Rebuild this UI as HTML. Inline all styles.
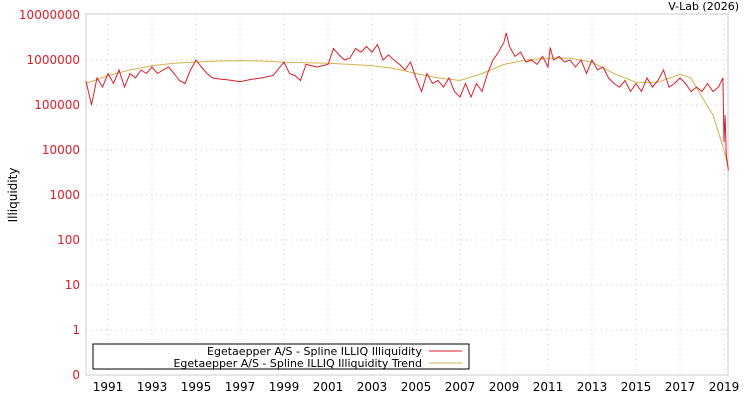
<!DOCTYPE html>
<html><head><meta charset="utf-8"><style>
body{margin:0;background:#fff;}
svg{display:block;font-family:"DejaVu Sans","Liberation Sans",sans-serif;}
</style></head><body>
<svg id="chart" width="750" height="400">
<text x="739" y="10" font-size="11" text-anchor="end" fill="#000">V-Lab (2026)</text>
<text x="17" y="195" font-size="12" text-anchor="middle" transform="rotate(-90 17 195)">Illiquidity</text>
<g id="grid"></g>
<rect x="86" y="14" width="642" height="361" fill="none" stroke="#ccc"/>
<g id="marks"></g>
<g id="axes"></g>
<g>
<rect x="93" y="344" width="376" height="25" fill="#fff" stroke="#000"/>
<text x="422" y="355" font-size="11" text-anchor="end">Egetaepper A/S - Spline ILLIQ Illiquidity</text>
<line x1="429" y1="351" x2="462" y2="351" stroke="#d9202a"/>
<text x="422" y="367" font-size="11" text-anchor="end">Egetaepper A/S - Spline ILLIQ Illiquidity Trend</text>
<line x1="429" y1="363" x2="462" y2="363" stroke="#d4b050"/>
</g>
</svg>
<script>
const yTicks=[0.1,1,10,100,1000,10000,100000,1000000,10000000];
const yTickLabels=["0","1","10","100","1000","10000","100000","1000000","10000000"];
const xTicks=[1991,1993,1995,1997,1999,2001,2003,2005,2007,2009,2011,2013,2015,2017,2019];
const illiqTimes=[1990,1990.25,1990.5,1990.75,1991,1991.25,1991.5,1991.75,1992,1992.25,1992.5,1992.75,1993,1993.25,1993.5,1993.75,1994,1994.25,1994.5,1994.75,1995,1995.25,1995.5,1995.75,1996,1996.5,1997,1997.5,1998,1998.5,1999,1999.25,1999.5,1999.75,2000,2000.5,2001,2001.25,2001.5,2001.75,2002,2002.25,2002.5,2002.75,2003,2003.25,2003.5,2003.75,2004,2004.25,2004.5,2004.75,2005,2005.25,2005.5,2005.75,2006,2006.25,2006.5,2006.75,2007,2007.25,2007.5,2007.75,2008,2008.25,2008.5,2008.75,2009,2009.1,2009.25,2009.5,2009.75,2010,2010.25,2010.5,2010.75,2011,2011.1,2011.25,2011.5,2011.75,2012,2012.25,2012.5,2012.75,2013,2013.25,2013.5,2013.75,2014,2014.25,2014.5,2014.75,2015,2015.25,2015.5,2015.75,2016,2016.25,2016.5,2016.75,2017,2017.25,2017.5,2017.75,2018,2018.25,2018.5,2018.75,2018.95,2019,2019.05,2019.1,2019.2];
const illiqValues=[340000,100000,400000,250000,500000,300000,600000,250000,500000,400000,600000,500000,700000,500000,600000,700000,500000,350000,300000,600000,1000000,700000,500000,400000,380000,360000,330000,370000,400000,450000,900000,500000,450000,350000,800000,700000,800000,1800000,1300000,1000000,1100000,1800000,1500000,2000000,1500000,2200000,1000000,1300000,1000000,800000,600000,900000,400000,200000,500000,300000,350000,250000,400000,200000,150000,300000,150000,300000,200000,500000,1000000,1500000,2500000,4000000,2000000,1200000,1500000,900000,1000000,800000,1200000,700000,1900000,1000000,1200000,900000,1000000,700000,1000000,500000,1000000,600000,700000,400000,300000,250000,350000,200000,300000,200000,400000,250000,350000,600000,250000,300000,400000,300000,200000,250000,200000,300000,200000,250000,400000,15000,60000,8000,3500];
const trendTimes=[1990,1991,1992,1993,1994,1995,1996,1997,1998,1999,2000,2001,2002,2003,2004,2005,2006,2007,2008,2009,2010,2011,2012,2013,2014,2015,2016,2017,2017.5,2018,2018.5,2019,2019.2];
const trendValues=[300000,450000,600000,750000,850000,900000,950000,970000,950000,900000,870000,850000,800000,750000,650000,500000,400000,350000,500000,800000,1000000,1100000,1100000,900000,500000,320000,320000,480000,400000,150000,60000,10000,4000];
const X0=86,X1=728,Y0=375,YT=14;
function xs(t){return X0+(t-1990)*22;}
function ys(v){return Y0-(Math.log10(v)+1)*45;}
const NS="http://www.w3.org/2000/svg";
const grid=document.getElementById('grid'),axes=document.getElementById('axes'),marks=document.getElementById('marks');
yTicks.forEach((v,i)=>{
 const y=ys(v);
 if(i>0&&i<yTicks.length-1){const l=document.createElementNS(NS,'line');l.setAttribute('x1',X0);l.setAttribute('x2',X1);l.setAttribute('y1',y);l.setAttribute('y2',y);l.setAttribute('stroke','#ccc');l.setAttribute('stroke-dasharray','1,4');
 
 grid.appendChild(l);}
 const t=document.createElementNS(NS,'text');t.setAttribute('x',80);t.setAttribute('y',y+4);t.setAttribute('text-anchor','end');t.setAttribute('font-size','12');t.setAttribute('fill','#d9202a');t.textContent=yTickLabels[i];
 
 axes.appendChild(t);
});
xTicks.forEach(yr=>{
 const x=xs(yr);
 const l=document.createElementNS(NS,'line');l.setAttribute('x1',x);l.setAttribute('x2',x);l.setAttribute('y1',YT);l.setAttribute('y2',Y0);l.setAttribute('stroke','#ccc');l.setAttribute('stroke-dasharray','1,4');
 
 grid.appendChild(l);
 const t=document.createElementNS(NS,'text');t.setAttribute('x',x);t.setAttribute('y',391);t.setAttribute('text-anchor','middle');t.setAttribute('font-size','12');t.textContent=yr;
 
 axes.appendChild(t);
});
function line(ts,vs,color,name){
 const p=document.createElementNS(NS,'polyline');
 p.setAttribute('points',ts.map((t,i)=>xs(t).toFixed(1)+','+ys(vs[i]).toFixed(1)).join(' '));
 p.setAttribute('fill','none');p.setAttribute('stroke',color);p.setAttribute('stroke-width','1');
 
 
 marks.appendChild(p);
}
line(trendTimes,trendValues,'#d4b050','trend-line');
line(illiqTimes,illiqValues,'#d9202a','illiquidity-line');
</script>
</body></html>
